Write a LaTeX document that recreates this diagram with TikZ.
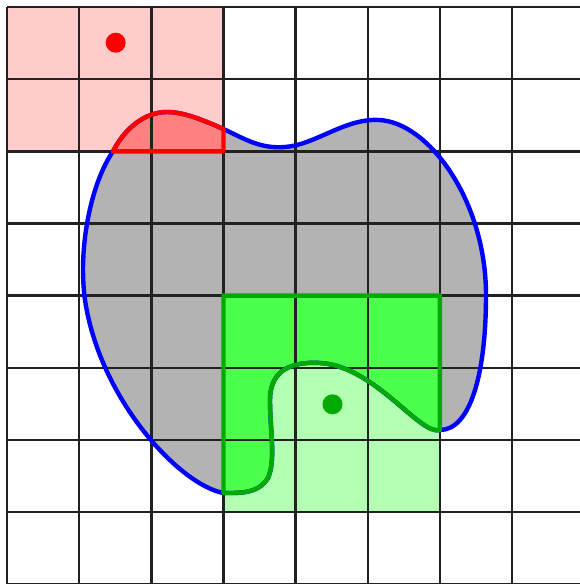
\documentclass[tikz,border=0pt]{standalone}
\definecolor{pinkfill}{RGB}{255,204,204}
\definecolor{redfill}{RGB}{255,128,128}
\definecolor{lightgreen}{RGB}{179,255,179}
\definecolor{brightgreen}{RGB}{77,255,77}
\definecolor{darkgreen}{RGB}{0,170,0}
\definecolor{blobgray}{RGB}{179,179,179}
\definecolor{gridcol}{RGB}{34,34,34}
\begin{document}
\begin{tikzpicture}[x=1pt,y=-1pt,
  gridline/.style={draw=gridcol,line width=2.4pt},
  outline/.style={line width=4.4pt,line join=round},
  dotmark/.style={circle,inner sep=0pt,minimum size=20pt}]
\useasboundingbox (0,0) rectangle (580,584);
\clip (0,0) rectangle (580,584);
\def\blobpath{(113,151.3) .. controls (125,128) and (145,112) .. (167,112)
  .. controls (185,112) and (205,121) .. (223.45,129)
  .. controls (245,139) and (260,149) .. (285,147)
  .. controls (315,145) and (345,118) .. (379,120)
  .. controls (428,122) and (486,200) .. (486,295)
  .. controls (486,375) and (470,430) .. (439.9,430)
  .. controls (420,436) and (375,366) .. (320,363)
  .. controls (285,361) and (270,375) .. (270,400)
  .. controls (270,430) and (276,460) .. (268,478)
  .. controls (258,494) and (240,493) .. (223.45,493)
  .. controls (180,485) and (100,400) .. (85,300)
  .. controls (78,250) and (90,185) .. (113,151.3) -- cycle}
% background fills
\fill[pinkfill] (7,7) rectangle (223.45,151.3);
\fill[lightgreen] (223.45,295.6) rectangle (439.9,512.05);
\fill[blobgray] \blobpath;
\fill[redfill] (113,151.3) .. controls (125,128) and (145,112) .. (167,112)
  .. controls (185,112) and (205,121) .. (223.45,129) -- (223.45,151.3) -- cycle;
\fill[brightgreen] (223.45,295.6) -- (439.9,295.6) -- (439.9,430)
  .. controls (420,436) and (375,366) .. (320,363)
  .. controls (285,361) and (270,375) .. (270,400)
  .. controls (270,430) and (276,460) .. (268,478)
  .. controls (258,494) and (240,493) .. (223.45,493) -- cycle;
% grid
\foreach \k in {0,...,8}{
  \draw[gridline] ({7+72.15*\k},7) -- ({7+72.15*\k},600);
  \draw[gridline] (7,{7+72.15*\k}) -- (600,{7+72.15*\k});
}
% outlines
\draw[outline,draw=blue] \blobpath;
\draw[outline,draw=red] (113,151.3) .. controls (125,128) and (145,112) .. (167,112)
  .. controls (185,112) and (205,121) .. (223.45,129) -- (223.45,151.3) -- cycle;
\draw[outline,draw=darkgreen] (223.45,295.6) -- (439.9,295.6) -- (439.9,430)
  .. controls (420,436) and (375,366) .. (320,363)
  .. controls (285,361) and (270,375) .. (270,400)
  .. controls (270,430) and (276,460) .. (268,478)
  .. controls (258,494) and (240,493) .. (223.45,493) -- cycle;
% dots
\node[dotmark,fill=red] (reddot) at (115.7,42.7) {};
\node[dotmark,fill=darkgreen] (greendot) at (332.5,404.3) {};
\end{tikzpicture}
\end{document}
